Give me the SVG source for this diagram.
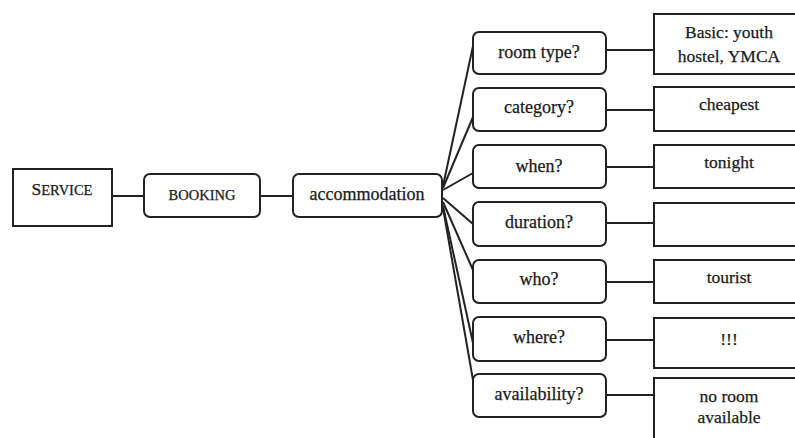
<svg xmlns="http://www.w3.org/2000/svg" width="795" height="438" viewBox="0 0 795 438">
<style>
.box{fill:#fff;stroke:#222;stroke-width:2}
.t{font-family:"Liberation Serif","Times New Roman",serif;fill:#1a1a1a;text-anchor:middle;stroke:#1a1a1a;stroke-width:0.25}
.q{font-size:18px}
.a{font-size:17.5px}
.c{stroke:#222;stroke-width:2;fill:none}
</style>
<rect width="795" height="438" fill="#fff"/>
<g id="connectors">
<line class="c" x1="112" y1="196" x2="144" y2="196"/>
<line class="c" x1="260" y1="196" x2="293" y2="196"/>
<line class="c" x1="443" y1="186" x2="473" y2="46"/>
<line class="c" x1="443" y1="188" x2="473" y2="117"/>
<line class="c" x1="443" y1="190" x2="473" y2="173"/>
<line class="c" x1="443" y1="198" x2="473" y2="224"/>
<line class="c" x1="443" y1="202" x2="473" y2="270"/>
<line class="c" x1="443" y1="206" x2="473" y2="343"/>
<line class="c" x1="443" y1="208" x2="473" y2="380"/>
<line class="c" x1="606" y1="50" x2="654" y2="50"/>
<line class="c" x1="606" y1="110" x2="654" y2="110"/>
<line class="c" x1="606" y1="167" x2="654" y2="167"/>
<line class="c" x1="606" y1="223" x2="654" y2="223"/>
<line class="c" x1="606" y1="282" x2="654" y2="282"/>
<line class="c" x1="606" y1="340" x2="654" y2="340"/>
<line class="c" x1="606" y1="395" x2="654" y2="395"/>
</g>
<g id="service"><rect class="box" x="13" y="169" width="99" height="57"/>
<text class="t" x="62" y="195"><tspan font-size="17.5">S</tspan><tspan font-size="14.5">ERVICE</tspan></text></g>
<g id="booking"><rect class="box" x="144" y="174" width="116" height="43" rx="6"/>
<text class="t" x="202" y="200" font-size="14.5">BOOKING</text></g>
<g id="accommodation"><rect class="box" x="293" y="174" width="149" height="43" rx="6"/>
<text class="t" x="367" y="200" font-size="18">accommodation</text></g>
<g id="q-roomtype"><rect class="box" x="473" y="32" width="133" height="42" rx="6"/><text class="t q" x="539" y="58">room type?</text></g>
<g id="q-category"><rect class="box" x="473" y="88" width="133" height="43" rx="6"/><text class="t q" x="539" y="113">category?</text></g>
<g id="q-when"><rect class="box" x="473" y="145" width="133" height="43" rx="6"/><text class="t q" x="539" y="172">when?</text></g>
<g id="q-duration"><rect class="box" x="473" y="202" width="133" height="44" rx="6"/><text class="t q" x="539" y="228">duration?</text></g>
<g id="q-who"><rect class="box" x="473" y="260" width="133" height="43" rx="6"/><text class="t q" x="539" y="285">who?</text></g>
<g id="q-where"><rect class="box" x="473" y="317" width="133" height="44" rx="6"/><text class="t q" x="539" y="343">where?</text></g>
<g id="q-availability"><rect class="box" x="473" y="374" width="133" height="43" rx="6"/><text class="t q" x="539" y="400">availability?</text></g>
<g id="a-roomtype"><rect class="box" x="654" y="14" width="150" height="60"/><text class="t a" x="729" y="38">Basic: youth</text><text class="t a" x="729" y="62">hostel, YMCA</text></g>
<g id="a-category"><rect class="box" x="654" y="87" width="150" height="44"/><text class="t a" x="729" y="110">cheapest</text></g>
<g id="a-when"><rect class="box" x="654" y="145" width="150" height="43"/><text class="t a" x="729" y="168">tonight</text></g>
<g id="a-duration"><rect class="box" x="654" y="203" width="150" height="43"/></g>
<g id="a-who"><rect class="box" x="654" y="260" width="150" height="43"/><text class="t a" x="729" y="283">tourist</text></g>
<g id="a-where"><rect class="box" x="654" y="318" width="150" height="50"/><text class="t a" x="729" y="345">!!!</text></g>
<g id="a-availability"><rect class="box" x="654" y="378" width="150" height="70"/><text class="t a" x="729" y="402">no room</text><text class="t a" x="729" y="423">available</text></g>
</svg>
